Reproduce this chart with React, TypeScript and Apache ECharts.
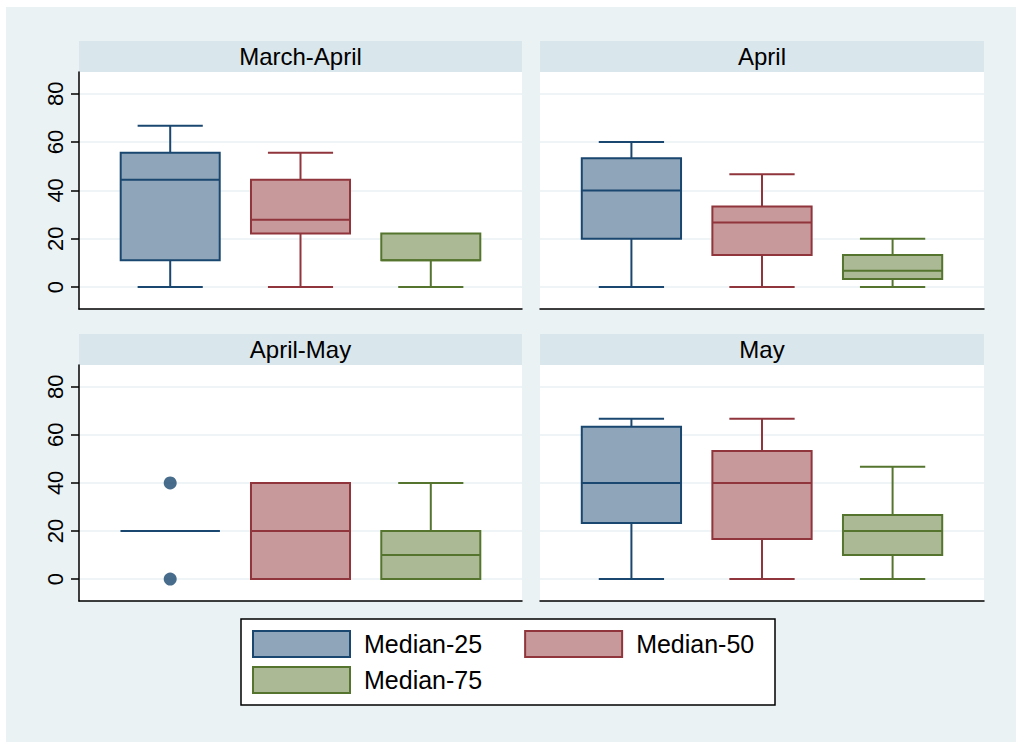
import React, { useEffect, useRef } from "react";
import * as echarts from "echarts";

const panels = ["March-April", "April", "April-May", "May"];
const groups = ["Median-25", "Median-50", "Median-75"];
// [min, Q1, median, Q3, max] per panel
const median25 = [
  [0, 11.1, 44.4, 55.6, 66.7],
  [0, 20, 40, 53.3, 60],
  [20, 20, 20, 20, 20],
  [0, 23.3, 40, 63.3, 66.7],
];
const median50 = [
  [0, 22.2, 27.8, 44.4, 55.6],
  [0, 13.3, 26.7, 33.3, 46.7],
  [0, 0, 20, 40, 40],
  [0, 16.7, 40, 53.3, 66.7],
];
const median75 = [
  [0, 11.1, 11.1, 22.2, 22.2],
  [0, 3.3, 6.7, 13.3, 20],
  [0, 0, 10, 20, 40],
  [0, 10, 20, 26.7, 46.7],
];
const outliers25 = [[], [], [40, 0], []];
const yTicks = [0, 20, 40, 60, 80];

const fills = ["#8FA5B9", "#C8999B", "#ABBA95"];
const strokes = ["#1A476F", "#90353B", "#55752F"];
const FONT = "Liberation Sans, Arial, Helvetica, sans-serif";

const gridRects = [
  { left: 79, top: 72, width: 443, height: 237 },
  { left: 540, top: 72, width: 444, height: 237 },
  { left: 79, top: 365, width: 443, height: 236 },
  { left: 540, top: 365, width: 444, height: 236 },
];
const STRIP_H = 31;

export default function App() {
  const ref = useRef<HTMLDivElement>(null);
  useEffect(() => {
    if (!ref.current) return;
    const chart = echarts.init(ref.current, undefined, { renderer: "svg" });
    const allData = [median25, median50, median75];

    const grids = gridRects.map((g) => ({
      ...g,
      show: true,
      backgroundColor: "#ffffff",
      borderWidth: 0,
    }));
    const xAxes = gridRects.map((_, i) => ({
      type: "value",
      gridIndex: i,
      min: 0.3,
      max: 3.7,
      axisLine: { show: true, onZero: false, lineStyle: { color: "#000", width: 1.5 } },
      axisTick: { show: false },
      axisLabel: { show: false },
      splitLine: { show: false },
    }));
    const yAxes = gridRects.map((_, i) => {
      const showAxis = i % 2 === 0;
      return {
        type: "value",
        gridIndex: i,
        min: -9.1,
        max: 89,
        axisLine: { show: showAxis, onZero: false, lineStyle: { color: "#000", width: 1.5 } },
        axisTick: {
          show: showAxis,
          length: 8,
          customValues: yTicks,
          lineStyle: { color: "#000", width: 1.5 },
        },
        axisLabel: {
          show: showAxis,
          customValues: yTicks,
          rotate: 90,
          margin: 13,
          fontSize: 22,
          fontFamily: FONT,
          color: "#000",
        },
        splitLine: { show: true, lineStyle: { color: "#EAF2F3", width: 1.5 } },
      };
    });

    const series: any[] = [];
    panels.forEach((_, p) => {
      groups.forEach((name, gi) => {
        const v = allData[gi][p];
        series.push({
          type: "custom",
          name,
          xAxisIndex: p,
          yAxisIndex: p,
          data: [[gi + 1, ...v]],
          renderItem: (params: any, api: any) => {
            const x = api.value(0);
            const mn = api.value(1),
              q1 = api.value(2),
              md = api.value(3),
              q3 = api.value(4),
              mx = api.value(5);
            const c = api.coord([x, md]);
            const cx = c[0];
            const yMin = api.coord([x, mn])[1];
            const yQ1 = api.coord([x, q1])[1];
            const yMd = c[1];
            const yQ3 = api.coord([x, q3])[1];
            const yMax = api.coord([x, mx])[1];
            const band = api.size([1, 0])[0];
            const hb = band * 0.38;
            const hc = band * 0.25;
            const st = strokes[gi];
            const ls = { stroke: st, lineWidth: 2 };
            const children: any[] = [];
            if (mx > q3) {
              children.push({ type: "line", shape: { x1: cx, y1: yQ3, x2: cx, y2: yMax }, style: ls });
              children.push({ type: "line", shape: { x1: cx - hc, y1: yMax, x2: cx + hc, y2: yMax }, style: ls });
            }
            if (mn < q1) {
              children.push({ type: "line", shape: { x1: cx, y1: yQ1, x2: cx, y2: yMin }, style: ls });
              children.push({ type: "line", shape: { x1: cx - hc, y1: yMin, x2: cx + hc, y2: yMin }, style: ls });
            }
            children.push({
              type: "rect",
              shape: { x: cx - hb, y: yQ3, width: hb * 2, height: yQ1 - yQ3 },
              style: { fill: fills[gi], stroke: st, lineWidth: 2 },
            });
            children.push({ type: "line", shape: { x1: cx - hb, y1: yMd, x2: cx + hb, y2: yMd }, style: ls });
            return { type: "group", children };
          },
        });
      });
      if (outliers25[p].length) {
        series.push({
          type: "scatter",
          name: "outliers",
          xAxisIndex: p,
          yAxisIndex: p,
          symbol: "circle",
          symbolSize: 13,
          itemStyle: { color: strokes[0] },
          data: outliers25[p].map((v) => [1, v]),
        });
      }
    });

    const legendItem = (gi: number) => ({
      name: groups[gi],
      icon: "rect",
      itemStyle: { color: fills[gi], borderColor: strokes[gi], borderWidth: 2 },
    });
    const legendBase = {
      orient: "horizontal",
      left: 252,
      padding: 0,
      itemWidth: 97,
      itemHeight: 26,
      itemGap: 42,
      selectedMode: false,
      textStyle: { fontSize: 25, fontFamily: FONT, color: "#000", padding: [0, 0, 0, 9] },
    };

    const graphic: any[] = [
      {
        type: "rect",
        z: -10,
        shape: { x: 6, y: 7, width: 1010, height: 735 },
        style: { fill: "#EAF2F3" },
      },
      {
        type: "rect",
        shape: { x: 241, y: 619, width: 534, height: 86 },
        style: { fill: "#fff", stroke: "#000", lineWidth: 1.5 },
      },
    ];
    gridRects.forEach((g, i) => {
      graphic.push({
        type: "rect",
        shape: { x: g.left, y: g.top - STRIP_H, width: g.width, height: STRIP_H },
        style: { fill: "#D9E6EB" },
      });
      graphic.push({
        type: "text",
        x: g.left + g.width / 2,
        y: g.top - STRIP_H / 2,
        style: {
          text: panels[i],
          fontSize: 24,
          fontFamily: FONT,
          fill: "#000",
          align: "center",
          verticalAlign: "middle",
        },
      });
    });

    chart.setOption({
      animation: false,
      backgroundColor: "#ffffff",
      grid: grids,
      xAxis: xAxes,
      yAxis: yAxes,
      legend: [
        { ...legendBase, top: 630, data: [legendItem(0), legendItem(1)] },
        { ...legendBase, top: 666, data: [legendItem(2)] },
      ],
      graphic,
      series,
    });
    return () => chart.dispose();
  }, []);
  return (
    <div
      ref={ref}
      style={{ position: "fixed", left: 0, top: 0, width: 1024, height: 749 }}
    />
  );
}
